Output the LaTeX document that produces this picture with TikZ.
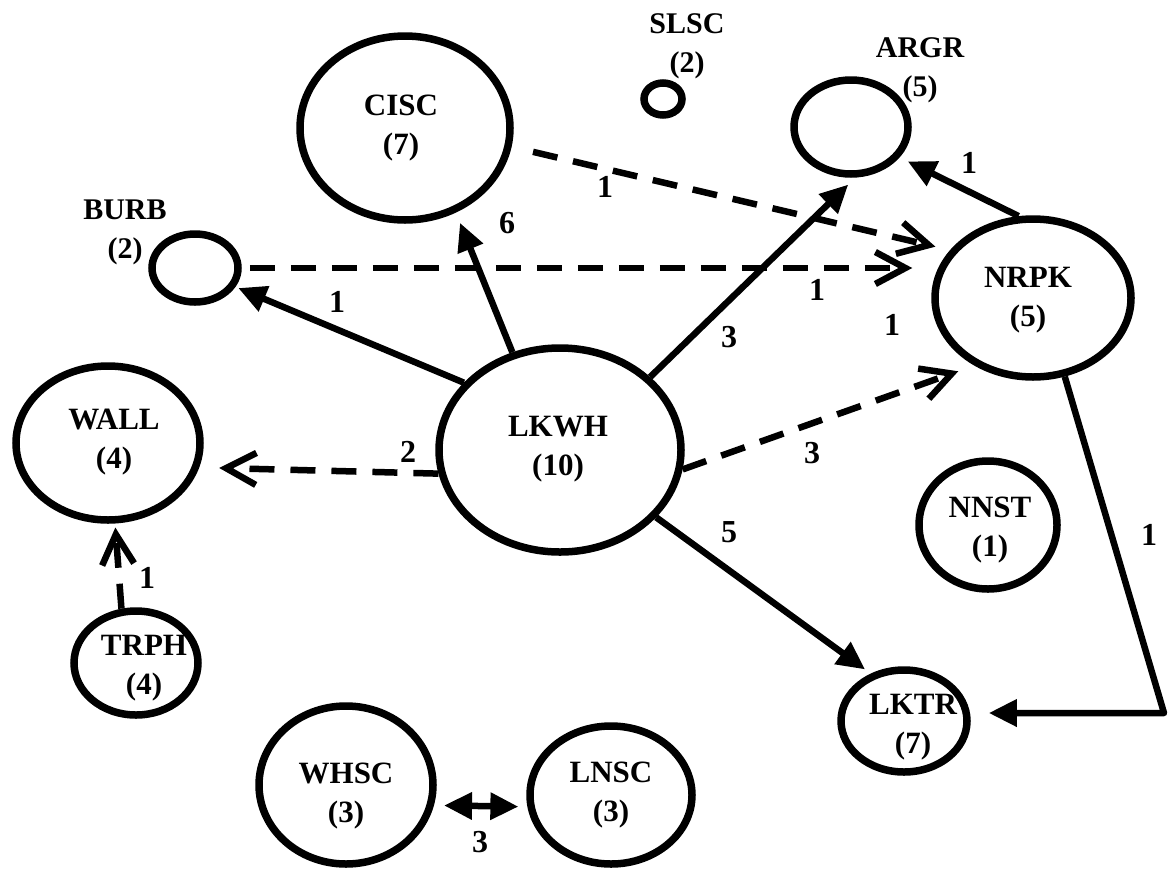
\documentclass[tikz,border=0pt]{standalone}
\usepackage{fontspec}
\setmainfont{Liberation Serif}
\usetikzlibrary{shapes.geometric,arrows.meta}
\begin{document}
\begin{tikzpicture}[x=1pt,y=-1pt,
  ell/.style={ellipse,draw,line width=7.5pt,inner sep=0pt},
  txt/.style={align=center,font=\bfseries\fontsize{31}{39}\selectfont,inner sep=0pt},
  lab/.style={align=center,font=\bfseries\fontsize{30}{39}\selectfont,inner sep=0pt},
  num/.style={font=\bfseries\fontsize{32}{39}\selectfont,inner sep=0pt},
  solidarr/.style={line width=6.5pt,-{Triangle[length=28pt,width=26pt]}},
  dasharr/.style={line width=6.5pt,dash pattern=on 25pt off 16pt,-{Straight Barb[length=30pt,width=32pt]}},
  bothsolid/.style={line width=6.5pt,{Triangle[length=28pt,width=26pt]}-{Triangle[length=28pt,width=26pt]}}
]
\fill[white] (0,0) rectangle (1172,868);
\useasboundingbox (0,0) rectangle (1172,868);

% nodes (ellipses)
\node[ell,minimum width=210pt,minimum height=184pt] (cisc) at (405,128) {};
\node[ell,minimum width=86pt,minimum height=68pt] (burb) at (195,268) {};
\node[ell,minimum width=38pt,minimum height=32pt] (slsc) at (663,99) {};
\node[ell,minimum width=114pt,minimum height=94pt] (argr) at (851,127) {};
\node[ell,minimum width=196pt,minimum height=158pt] (nrpk) at (1033,298) {};
\node[ell,minimum width=184pt,minimum height=154pt] (wall) at (108,443) {};
\node[ell,minimum width=242pt,minimum height=204pt] (lkwh) at (560,450) {};
\node[ell,minimum width=124pt,minimum height=104pt] (trph) at (136,663) {};
\node[ell,minimum width=174pt,minimum height=158pt] (whsc) at (346,785) {};
\node[ell,minimum width=162pt,minimum height=138pt] (lnsc) at (611,795) {};
\node[ell,minimum width=138pt,minimum height=128pt] (nnst) at (988,525) {};
\node[ell,minimum width=126pt,minimum height=102pt] (lktr) at (904,721) {};

% node texts
\node[txt] (cisct) at (401,128) {CISC\\(7)};
\node[lab] (burbt) at (125,232) {BURB\\(2)};
\node[lab] (slsct) at (687,46) {SLSC\\(2)};
\node[lab] (argrt) at (920,70) {ARGR\\(5)};
\node[txt] (nrpkt) at (1028,300) {NRPK\\(5)};
\node[txt] (wallt) at (114,442) {WALL\\(4)};
\node[txt] (lkwht) at (558,449) {LKWH\\(10)};
\node[txt] (trpht) at (144,668) {TRPH\\(4)};
\node[txt] (whsct) at (346,796) {WHSC\\(3)};
\node[txt] (lnsct) at (611,795) {LNSC\\(3)};
\node[txt] (nnstt) at (990,530) {NNST\\(1)};
\node[txt] (lktrt) at (913,727) {LKTR\\(7)};

% connectors
\draw[solidarr,shorten >=3pt] (lkwh.145) -- (burb.-25);
\draw[solidarr,shorten >=11pt] (lkwh.116) -- (cisc.-59);
\draw[dasharr,shorten <=22pt,shorten >=15pt] (cisc.-10.5) -- (nrpk.150);
\draw[dasharr,shorten <=8pt,shorten >=19pt] (burb.east) -- (burb.east -| nrpk.west);
\draw[solidarr,shorten >=10pt] (lkwh.39) -- (argr.-85);
\draw[solidarr,shorten >=9pt] (nrpk.100) -- (argr.-32);
\draw[dasharr,shorten >=17pt] (lkwh.-9.4) -- (nrpk.229);
\draw[dasharr,shorten >=20pt] (lkwh.191.4) -- (wall.-15.3);
\draw[solidarr,shorten >=7pt] (lkwh.-35) -- (lktr.125);
\coordinate (c1) at (1164,713);
\draw[solidarr,line join=round,shorten >=18pt] (nrpk.-68) -- (c1) -- (c1 -| lktr.east);
\draw[dasharr,shorten >=4pt] (trph.105) -- (wall.-85);
\draw[bothsolid,shorten <=10pt,shorten >=9pt] (whsc.-13) -- (lnsc.188);

% connector labels
\node[num] (n1) at (337,302) {1};
\node[num] (n2) at (507,223) {6};
\node[num] (n3) at (605,187) {1};
\node[num] (n4) at (817,290) {1};
\node[num] (n5) at (892,325) {1};
\node[num] (n6) at (729,337) {3};
\node[num] (n7) at (969,163) {1};
\node[num] (n8) at (812,453) {3};
\node[num] (n9) at (729,532) {5};
\node[num] (n10) at (1149,535) {1};
\node[num] (n11) at (408,452) {2};
\node[num] (n12) at (147,578) {1};
\node[num] (n13) at (480,842) {3};
\end{tikzpicture}
\end{document}
